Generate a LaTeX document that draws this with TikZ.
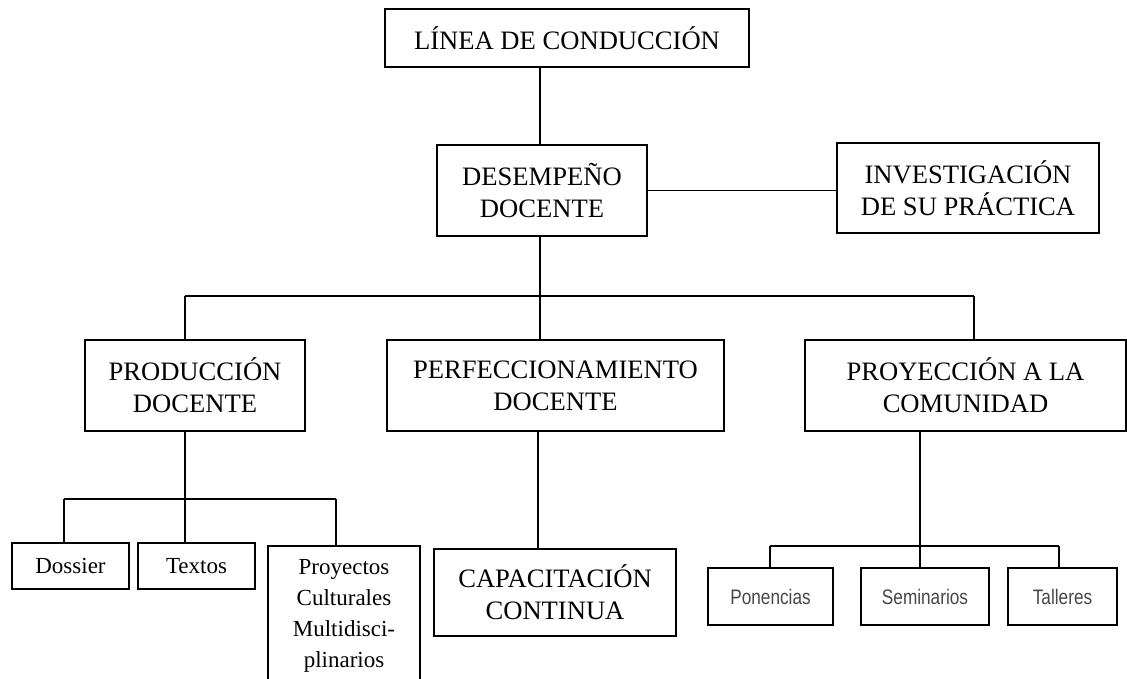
\documentclass[tikz,border=0pt]{standalone}
\usepackage{fontspec}
\setmainfont{Liberation Serif}
\newfontfamily\narrowsans[FakeStretch=0.82]{Liberation Sans}

\begin{document}
\begin{tikzpicture}
                \tikzset{x=1pt, y=-1pt}
                \tikzstyle{box}=[rectangle, draw, line width=1.2pt, align=center, inner sep=0pt, font=\fontsize{26.6}{32}\selectfont]
                \tikzstyle{small}=[box, font=\fontsize{23}{31}\selectfont]
                \tikzstyle{act}=[box, text=black!72, font=\narrowsans\fontsize{21}{25}\selectfont]
                \tikzstyle{link}=[line width=1.2pt]

                \useasboundingbox (0,0) rectangle (1127,679);

                % top levels
                \draw (567.0, 38.0)   node[box, minimum width=364pt, minimum height=58pt]   (linea)  {LÍNEA DE CONDUCCIÓN};
                \draw (542.0, 190.5)  node[box, minimum width=210pt, minimum height=91pt]   (desem)  {DESEMPEÑO\\DOCENTE};
                \draw (968.0, 188.0)  node[box, minimum width=262pt, minimum height=90pt]   (inves)  {INVESTIGACIÓN\\DE SU PRÁCTICA};

                % second level
                \draw (195.0, 385.5)  node[box, minimum width=220pt, minimum height=91pt]   (prod)   {PRODUCCIÓN\\DOCENTE};
                \draw (555.5, 385.5)  node[box, minimum width=337pt, minimum height=91pt]   (perf)   {PERFECCIONAMIENTO\\DOCENTE};
                \draw (965.5, 385.5)  node[box, minimum width=321pt, minimum height=91pt]   (proy)   {PROYECCIÓN A LA\\COMUNIDAD};

                % third level
                \draw (70.5, 566.0)   node[small, minimum width=117pt, minimum height=46pt] (dossier) {Dossier};
                \draw (196.5, 566.0)  node[small, minimum width=117pt, minimum height=46pt] (textos)  {Textos};
                \draw (344.0, 616.0)  node[small, minimum width=152pt, minimum height=140pt] (proyec) {Proyectos\\Culturales\\Multidisci-\\plinarios};
                \draw (555.0, 592.5)  node[box, minimum width=242pt, minimum height=87pt]   (capac)  {CAPACITACIÓN\\CONTINUA};
                \draw (770.5, 596.5)  node[act, minimum width=125pt, minimum height=57pt]   (ponen)  {Ponencias};
                \draw (925.0, 596.5)  node[act, minimum width=128pt, minimum height=57pt]   (semin)  {Seminarios};
                \draw (1062.5, 596.5) node[act, minimum width=109pt, minimum height=57pt]   (talle)  {Talleres};

                % junctions
                \coordinate (top)   at (540, 0);
                \coordinate (busl)  at (185, 296);
                \coordinate (busm)  at (540, 296);
                \coordinate (busr)  at (974, 296);
                \coordinate (pl)    at (64, 499);
                \coordinate (pr)    at (336, 499);
                \coordinate (cdrop) at (538, 0);
                \coordinate (ql)    at (770, 546);
                \coordinate (qm)    at (920, 546);
                \coordinate (qr)    at (1059, 546);

                \draw [link]        (top |- linea.south) -- (top |- desem.north);
                \draw [link]        (desem.east) -- (desem.east -| inves.west);
                \draw [link]        (top |- desem.south) -- (busm);
                \draw [link]        (busl) -- (busr);
                \draw [link]        (busl) -- (busl |- prod.north);
                \draw [link]        (busm) -- (busm |- perf.north);
                \draw [link]        (busr) -- (busr |- proy.north);

                \draw [link]        (busl |- prod.south) -- (busl |- textos.north);
                \draw [link]        (pl) -- (pr);
                \draw [link]        (pl) -- (pl |- dossier.north);
                \draw [link]        (pr) -- (pr |- proyec.north);

                \draw [link]        (cdrop |- perf.south) -- (cdrop |- capac.north);

                \draw [link]        (qm |- proy.south) -- (qm |- semin.north);
                \draw [link]        (ql) -- (qr);
                \draw [link]        (ql) -- (ql |- ponen.north);
                \draw [link]        (qr) -- (qr |- talle.north);
            \end{tikzpicture}
\end{document}
